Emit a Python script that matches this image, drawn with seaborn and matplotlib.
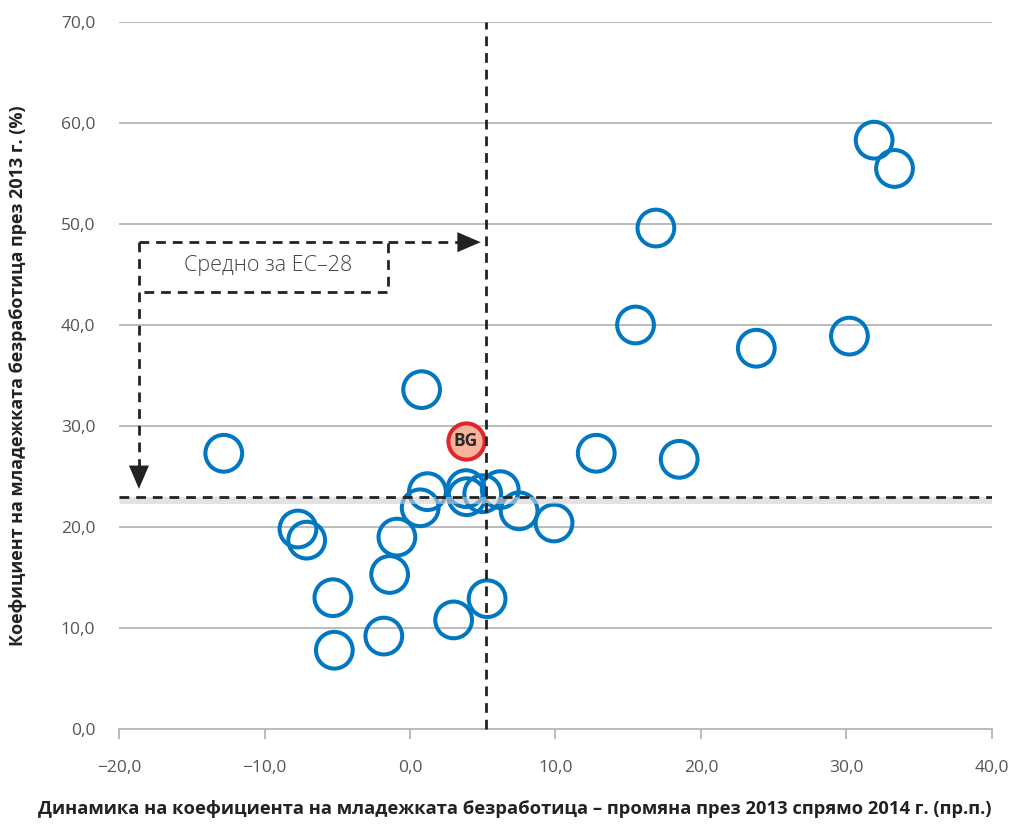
import matplotlib
matplotlib.use("Agg")
import matplotlib.pyplot as plt
import seaborn as sns
import pandas as pd
import numpy as np

# Data: change in youth unemployment 2013 vs 2014 (pp) and rate in 2013 (%)
change_pp = [-12.8, -7.7, -7.1, -0.9, -1.4, -5.3, -5.2, -1.8, 3.0, 5.3,
             0.7, 1.2, 3.85, 3.9, 5.0, 6.2, 7.5, 9.9, 0.8, 12.8,
             18.5, 15.5, 16.9, 23.8, 30.2, 31.9, 33.3]
rate_2013 = [27.3, 19.8, 18.7, 19.0, 15.3, 13.0, 7.8, 9.2, 10.8, 12.9,
             21.9, 23.5, 23.8, 23.0, 23.3, 23.7, 21.6, 20.4, 33.6, 27.3,
             26.7, 40.0, 49.6, 37.7, 38.9, 58.3, 55.5]
bg_change = [3.85]
bg_rate = [28.5]
bg_label = "BG"
eu_avg_change = 5.2
eu_avg_rate = 23.0
avg_label = "Средно за ЕС–28"
x_ticks = [-20, -10, 0, 10, 20, 30, 40]
y_ticks = [0, 10, 20, 30, 40, 50, 60, 70]
xlabel = "Динамика на коефициента на младежката безработица – промяна през 2013 спрямо 2014 г. (пр.п.)"
ylabel = "Коефициент на младежката безработица през 2013 г. (%)"

sns.set_theme(style="white")
plt.rcParams['font.family'] = ['Open Sans', 'DejaVu Sans']

BLUE = "#0077c0"
GRID = "#b5b5b5"

fig = plt.figure(figsize=(10.11, 8.24), dpi=100)
ax = fig.add_axes([119/1011, 95/824, 873/1011, 707/824])

df = pd.DataFrame({"x": change_pp, "y": rate_2013})
sns.scatterplot(data=df, x="x", y="y", s=700, marker="o", ax=ax, zorder=3,
                color=BLUE, linewidth=2.9, legend=False)
ax.collections[-1].set_facecolor("none")
ax.collections[-1].set_edgecolor(BLUE)

dbg = pd.DataFrame({"x": bg_change, "y": bg_rate})
sns.scatterplot(data=dbg, x="x", y="y", s=680, marker="o", ax=ax, zorder=4,
                color="#f7b49a", edgecolor="#e2252b", linewidth=2.9, legend=False)
ax.text(bg_change[0], bg_rate[0], bg_label, ha="center", va="center",
        fontsize=12.5, fontweight="bold", color="#2a2a2a", zorder=5)

ax.set_xlim(-20, 40)
ax.set_ylim(0, 70)
ax.set_xticks(x_ticks)
ax.set_yticks(y_ticks)

def fmt(v):
    s = f"{v:.1f}".replace(".", ",")
    return s.replace("-", "\u2212")

ax.set_xticklabels([fmt(v) for v in x_ticks])
ax.set_yticklabels([fmt(v) for v in y_ticks])

for yv in y_ticks[1:]:
    ax.axhline(yv, color=GRID, lw=1.3, zorder=1)

for s in ["top", "right", "left"]:
    ax.spines[s].set_visible(False)
ax.spines["bottom"].set_color(GRID)
ax.spines["bottom"].set_linewidth(1.3)

ax.tick_params(axis="x", which="both", bottom=True, length=7, width=1.3,
               color=GRID, labelsize=12.5, labelcolor="#555555", pad=15)
ax.tick_params(axis="y", which="both", left=False, labelsize=12.5,
               labelcolor="#555555", pad=11)

ax.set_xlabel(xlabel, fontsize=13.2, fontweight="bold", color="#222222")
ax.set_ylabel(ylabel, fontsize=13, fontweight="bold", color="#222222")
ax.xaxis.set_label_coords((515 - 119) / 873, -(800 - 729) / 707)
ax.yaxis.set_label_coords(-(119 - 27) / 873, 0.5)

# average lines
ax.plot([-20, 40], [eu_avg_rate - 0.35, eu_avg_rate - 0.35], color="#cfcfcf",
        lw=5, alpha=0.6, zorder=5, solid_capstyle="butt")
ax.axhline(eu_avg_rate, color="#222222", lw=2, ls=(0, (3.5, 2.5)), zorder=6)
ax.plot([eu_avg_change, eu_avg_change], [0, 70], color="#222222", lw=2,
        ls=(0, (3.5, 2.5)), zorder=6, clip_on=False)

# annotation box and arrows
bx0, bx1 = -18.63, -1.5
by0, by1 = 43.3, 48.2
dash = (0, (3.5, 2.5))
ax.plot([bx0, bx1, bx1, bx0], [by1, by1, by0, by0], color="#222222", lw=2,
        ls=dash, zorder=6)
ax.plot([bx1, eu_avg_change - 1.2], [by1, by1], color="#222222", lw=2, ls=dash, zorder=6)
ax.plot([bx0, bx0], [by1, eu_avg_rate + 2.2], color="#222222", lw=2, ls=dash, zorder=6)
ax.annotate("", xy=(eu_avg_change - 0.15, by1), xytext=(eu_avg_change - 1.6, by1),
            arrowprops=dict(arrowstyle="-|>,head_length=0.7,head_width=0.3",
                            color="#222222", lw=0, mutation_scale=24), zorder=7)
ax.annotate("", xy=(bx0, eu_avg_rate + 0.5), xytext=(bx0, eu_avg_rate + 3.0),
            arrowprops=dict(arrowstyle="-|>,head_length=0.7,head_width=0.3",
                            color="#222222", lw=0, mutation_scale=24), zorder=7)
ax.text((bx0 + bx1) / 2 + 0.3, (by0 + by1) / 2 + 0.1, avg_label, ha="center",
        va="center", fontsize=15.5, color="#444444", fontweight="light", zorder=7)

fig.savefig("out.png", dpi=100)
